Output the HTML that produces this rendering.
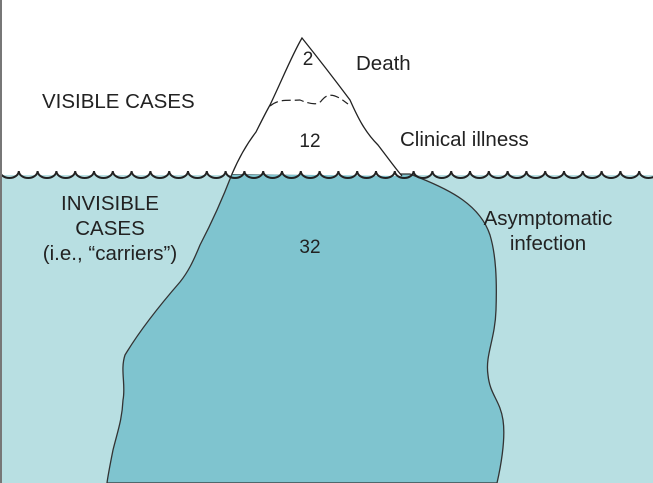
<!DOCTYPE html>
<html><head><style>
body{margin:0;width:653px;height:483px;overflow:hidden;background:#fff}
svg{display:block}
text{font-family:"Liberation Sans",sans-serif;fill:#222}
</style></head><body>
<svg width="653" height="483" viewBox="0 0 653 483">
<rect x="0" y="175" width="653" height="308" fill="#b8dfe2"/>
<path d="M232,174 C222,200 212,222 200,245 C193,262 188,272 180,282 C160,305 140,330 125,355 C120,370 126,385 123,400 C122,420 118,430 113,450 C110,465 108,475 107,483 L497,483 C500,470 506,440 503,420 C500,400 490,395 488,375 C485,355 495,340 496,310 C497,280 496,255 490,235 C480,205 450,190 420,178 L410,174 Z" fill="#7fc4cf" stroke="#333" stroke-width="1.3"/>
<path d="M232,174 C238,160 246,145 256,132 C262,120 266,112 270,105 C282,80 292,55 302,38 C318,58 335,80 350,100 C358,118 365,132 378,145 C388,158 395,168 402,176" fill="#fff" stroke="#222" stroke-width="1.3"/>
<path d="M270,106 C280,98 290,101 300,100 C310,104 318,106 322,100 C330,90 340,98 348,104" fill="none" stroke="#222" stroke-width="1.2" stroke-dasharray="9,4"/>
<path d="M0,171 a9.4,7 0 0 0 18.8,0 a9.4,7 0 0 0 18.8,0 a9.4,7 0 0 0 18.8,0 a9.4,7 0 0 0 18.8,0 a9.4,7 0 0 0 18.8,0 a9.4,7 0 0 0 18.8,0 a9.4,7 0 0 0 18.8,0 a9.4,7 0 0 0 18.8,0 a9.4,7 0 0 0 18.8,0 a9.4,7 0 0 0 18.8,0 a9.4,7 0 0 0 18.8,0 a9.4,7 0 0 0 18.8,0 a9.4,7 0 0 0 18.8,0 a9.4,7 0 0 0 18.8,0 a9.4,7 0 0 0 18.8,0 a9.4,7 0 0 0 18.8,0 a9.4,7 0 0 0 18.8,0 a9.4,7 0 0 0 18.8,0 a9.4,7 0 0 0 18.8,0 a9.4,7 0 0 0 18.8,0 a9.4,7 0 0 0 18.8,0 a9.4,7 0 0 0 18.8,0 a9.4,7 0 0 0 18.8,0 a9.4,7 0 0 0 18.8,0 a9.4,7 0 0 0 18.8,0 a9.4,7 0 0 0 18.8,0 a9.4,7 0 0 0 18.8,0 a9.4,7 0 0 0 18.8,0 a9.4,7 0 0 0 18.8,0 a9.4,7 0 0 0 18.8,0 a9.4,7 0 0 0 18.8,0 a9.4,7 0 0 0 18.8,0 a9.4,7 0 0 0 18.8,0 a9.4,7 0 0 0 18.8,0 a9.4,7 0 0 0 18.8,0" fill="none" stroke="#222" stroke-width="2"/>
<rect x="0" y="0" width="2" height="483" fill="#777"/>
<text x="308" y="65" font-size="19" text-anchor="middle">2</text>
<text x="310" y="147" font-size="19" text-anchor="middle">12</text>
<text x="310" y="253" font-size="19" text-anchor="middle">32</text>
<text x="356" y="70" font-size="20.5">Death</text>
<text x="400" y="146" font-size="20.5">Clinical illness</text>
<text x="42" y="108" font-size="20.5">VISIBLE CASES</text>
<text x="110" y="210" font-size="20.5" text-anchor="middle">INVISIBLE</text>
<text x="110" y="235" font-size="20.5" text-anchor="middle">CASES</text>
<text x="110" y="260" font-size="20.5" text-anchor="middle">(i.e., “carriers”)</text>
<text x="548" y="225" font-size="20.5" text-anchor="middle">Asymptomatic</text>
<text x="548" y="250" font-size="20.5" text-anchor="middle">infection</text>
</svg>
</body></html>
